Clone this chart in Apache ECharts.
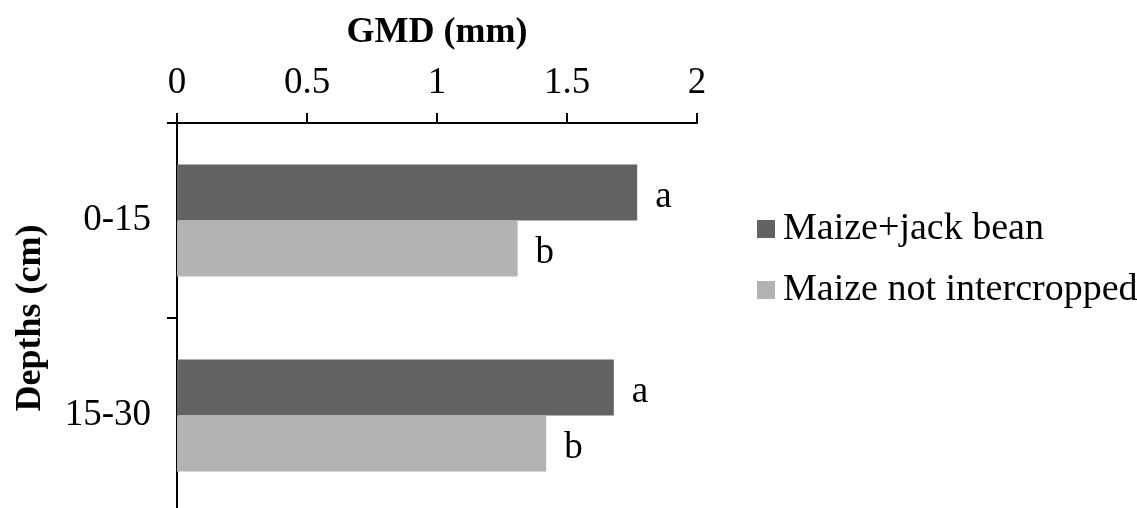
<!DOCTYPE html>
<html>
<head>
<meta charset="utf-8">
<script src="https://cdn.jsdelivr.net/npm/echarts@6/dist/echarts.min.js"></script>
<style>
  html, body { margin: 0; padding: 0; background: #fff; }
  #chart { width: 1137px; height: 508px; }
</style>
</head>
<body>
<div id="chart"></div>
<script>
// Soil aggregate geometric mean diameter by depth
const depths = ['0-15', '15-30'];
const seriesNames = ['Maize+jack bean', 'Maize not intercropped'];
const jackBean = [1.77, 1.68];
const notIntercropped = [1.31, 1.42];
const jackBeanLetters = ['a', 'a'];
const notIntercroppedLetters = ['b', 'b'];
const gmdTicks = [0, 0.5, 1, 1.5, 2];

const FONT = '"Liberation Serif", "Times New Roman", serif';
const chart = echarts.init(document.getElementById('chart'));

// Significance letters drawn just past the end of each bar
function letterLabel(letters) {
  return {
    show: true,
    position: 'right',
    distance: 18,
    offset: [0, 5],
    color: '#000',
    fontFamily: FONT,
    fontSize: 37,
    formatter: p => letters[p.dataIndex]
  };
}

chart.setOption({
  animation: false,
  backgroundColor: '#fff',
  grid: { left: 177, top: 123, width: 520, height: 390, containLabel: false, outerBoundsMode: 'none' },
  legend: {
    orient: 'vertical',
    left: 752,
    top: 205,
    itemWidth: 18,
    itemHeight: 18,
    itemGap: 23,
    icon: 'rect',
    textStyle: { fontFamily: FONT, fontSize: 38, color: '#000', padding: [0, 0, 0, 3] },
    data: seriesNames
  },
  xAxis: {
    type: 'value',
    position: 'top',
    min: gmdTicks[0],
    max: gmdTicks[gmdTicks.length - 1],
    interval: 0.5,
    name: 'GMD (mm)',
    nameLocation: 'middle',
    nameGap: 72,
    nameTextStyle: { fontFamily: FONT, fontSize: 36, fontWeight: 'bold', color: '#000' },
    axisLine: { show: true, lineStyle: { color: '#000', width: 2 } },
    axisTick: { show: true, length: 10, lineStyle: { color: '#000', width: 2 } },
    axisLabel: { color: '#000', fontFamily: FONT, fontSize: 37, margin: 21 },
    splitLine: { show: false }
  },
  yAxis: {
    type: 'category',
    inverse: true,
    data: depths,
    name: 'Depths (cm)',
    nameLocation: 'middle',
    nameRotate: 90,
    nameGap: 128,
    nameTextStyle: { fontFamily: FONT, fontSize: 36, fontWeight: 'bold', color: '#000' },
    axisLine: { show: true, lineStyle: { color: '#000', width: 2 } },
    axisTick: { show: true, length: 10, lineStyle: { color: '#000', width: 2 } },
    axisLabel: { color: '#000', fontFamily: FONT, fontSize: 37, margin: 26 }
  },
  series: [
    {
      name: seriesNames[0],
      type: 'bar',
      data: jackBean,
      barWidth: 56,
      barGap: '0%',
      itemStyle: { color: '#636363' },
      label: letterLabel(jackBeanLetters)
    },
    {
      name: seriesNames[1],
      type: 'bar',
      data: notIntercropped,
      barWidth: 56,
      barGap: '0%',
      itemStyle: { color: '#b3b3b3' },
      label: letterLabel(notIntercroppedLetters)
    }
  ]
});
</script>
</body>
</html>
